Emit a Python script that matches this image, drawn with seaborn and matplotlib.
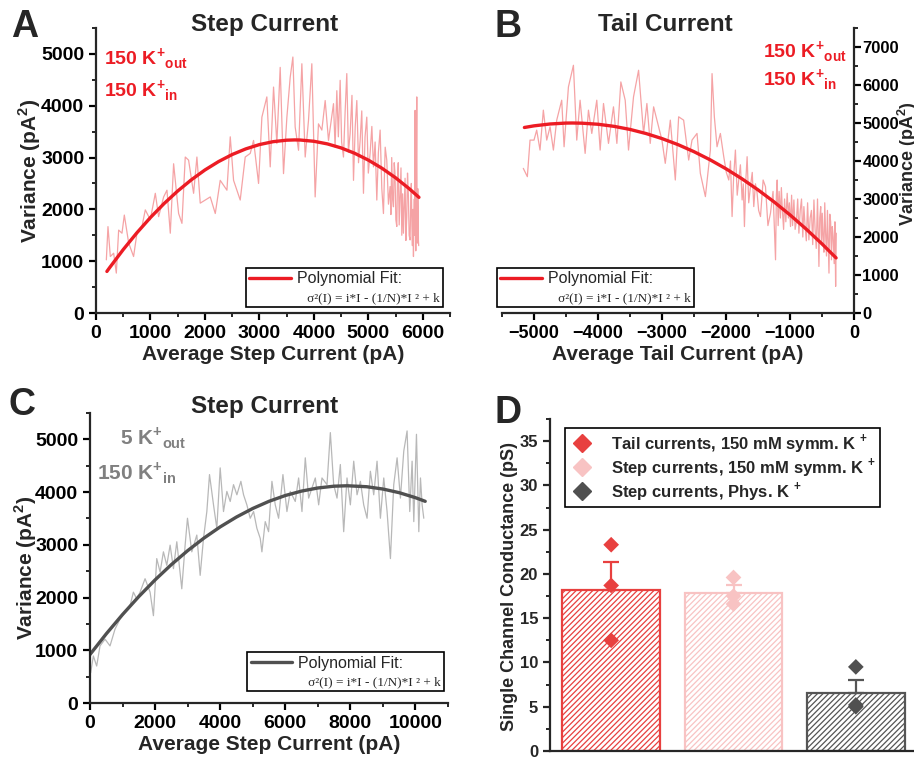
import numpy as np
import pandas as pd
import matplotlib
matplotlib.use("Agg")
import matplotlib.pyplot as plt
import seaborn as sns
from matplotlib.lines import Line2D
from matplotlib.ticker import MultipleLocator
from matplotlib.font_manager import FontProperties

# ---------------- data ----------------
# Panel A: step current, 150 K+ symmetric -- (mean current pA, variance pA^2)
a_trace = [(190, 1026), (220, 1667), (263, 1090), (324, 1154), (373, 770), (416, 1600), (477, 1540),
           (520, 1890), (600, 1350), (690, 1090), (752, 1540), (844, 1670), (905, 1990), (997, 1800),
           (1089, 2310), (1150, 1860), (1242, 2240), (1303, 2370), (1364, 1540), (1425, 2880),
           (1517, 1920), (1578, 1730), (1639, 3010), (1700, 2950), (1792, 2310), (1853, 3010),
           (1914, 2120), (2006, 2180), (2098, 2240), (2190, 1920), (2281, 2560), (2404, 2370),
           (2465, 3400), (2526, 2560), (2648, 2180), (2740, 3010), (2832, 3080), (2893, 3330),
           (2985, 2500), (3046, 3780), (3137, 4170), (3199, 2820), (3260, 4360), (3321, 3270),
           (3382, 4740), (3443, 2690), (3505, 3780), (3566, 4550), (3615, 4940), (3657, 3590),
           (3719, 3140), (3780, 4810), (3841, 3010), (3902, 3720), (3963, 4810), (4024, 2240),
           (4085, 3650), (4147, 3530), (4208, 4100), (4269, 3330), (4361, 4040), (4390, 3200),
           (4422, 4290), (4450, 3400), (4483, 4490), (4510, 3300), (4544, 3010), (4575, 3900),
           (4605, 4620), (4635, 3100), (4666, 3460), (4700, 4200), (4728, 2560), (4760, 3600),
           (4789, 4100), (4820, 2900), (4850, 3330), (4880, 3900), (4911, 2310), (4940, 3400),
           (4972, 3780), (5000, 2700), (5033, 3080), (5065, 3600), (5095, 2820), (5125, 3300),
           (5156, 2180), (5185, 3100), (5217, 3530), (5248, 2400), (5278, 1920), (5310, 3200),
           (5339, 2950), (5370, 2100), (5400, 2440), (5415, 1900), (5430, 3000), (5446, 2200),
           (5462, 2050), (5476, 2900), (5490, 2700), (5506, 1800), (5523, 1670), (5536, 2600),
           (5550, 2900), (5567, 1700), (5584, 2240), (5600, 2800), (5615, 1500), (5630, 2300),
           (5645, 1540), (5660, 2100), (5675, 2600), (5690, 1400), (5706, 1860), (5720, 2700),
           (5735, 2300), (5750, 1500), (5767, 1410), (5780, 2200), (5790, 2500), (5800, 1700),
           (5810, 1300), (5820, 2000), (5829, 1090), (5837, 1800), (5845, 2200), (5852, 1500),
           (5859, 3910), (5866, 2000), (5872, 1200), (5880, 2600), (5890, 4170), (5896, 1600),
           (5902, 1350), (5908, 2400), (5915, 2000), (5920, 1400), (5925, 1300)]
a_fit_current = [200, 250, 500, 750, 1000, 1250, 1500, 1750, 2000, 2250, 2500, 2750, 3000, 3250,
                 3500, 3650, 3750, 4000, 4250, 4500, 4750, 5000, 5250, 5500, 5750, 5930]
a_fit_variance = [802, 875, 1224, 1547, 1843, 2112, 2354, 2570, 2760, 2922, 3058, 3167, 3250, 3306,
                  3335, 3340, 3338, 3314, 3263, 3186, 3082, 2951, 2794, 2610, 2400, 2232]

# Panel B: tail current, 150 K+ symmetric
b_trace = [(-5167, 3806), (-5104, 3588), (-5062, 4550), (-5000, 4550), (-4958, 4813), (-4906, 4288),
           (-4854, 5338), (-4801, 4550), (-4749, 4900), (-4697, 4288), (-4645, 5075), (-4567, 5600),
           (-4530, 4375), (-4462, 5950), (-4384, 6519), (-4332, 4550), (-4280, 5600), (-4201, 4200),
           (-4149, 5338), (-4097, 4725), (-4019, 5600), (-3966, 4288), (-3914, 5513), (-3836, 4463),
           (-3758, 5425), (-3705, 4463), (-3643, 6081), (-3575, 5600), (-3523, 4288), (-3445, 5688),
           (-3366, 6388), (-3288, 4725), (-3236, 5513), (-3184, 4463), (-3131, 5425), (-3053, 4900),
           (-3001, 4550), (-2949, 3938), (-2870, 5075), (-2792, 3500), (-2740, 5163), (-2662, 5075),
           (-2583, 4025), (-2531, 4550), (-2453, 4725), (-2401, 3675), (-2322, 3063), (-2244, 4288),
           (-2218, 6300), (-2182, 5163), (-2140, 4375), (-2088, 4725), (-2035, 4113), (-1995, 3700),
           (-1957, 3500), (-1930, 4000), (-1905, 2538), (-1880, 3600), (-1853, 4288), (-1825, 3100),
           (-1801, 3500), (-1775, 3900), (-1748, 2975), (-1730, 3400), (-1712, 2275), (-1690, 3500),
           (-1670, 4113), (-1645, 2900), (-1618, 3325), (-1590, 3700), (-1566, 2800), (-1540, 3400),
           (-1514, 3150), (-1490, 2700), (-1461, 2538), (-1420, 3500), (-1383, 3325), (-1345, 2300),
           (-1305, 2625), (-1265, 3200), (-1226, 1400), (-1213, 3100), (-1200, 3500), (-1185, 2300),
           (-1170, 3200), (-1150, 2500), (-1135, 3300), (-1122, 2800), (-1100, 2200), (-1085, 3000),
           (-1065, 2400), (-1044, 3150), (-1025, 2500), (-1010, 2900), (-992, 2275), (-975, 3100),
           (-960, 2300), (-939, 2975), (-920, 2200), (-900, 2400), (-880, 3000), (-861, 2100),
           (-840, 2700), (-820, 3000), (-800, 2000), (-783, 2800), (-765, 2300), (-745, 1900),
           (-725, 2900), (-705, 1925), (-685, 2500), (-665, 2700), (-645, 1800), (-626, 2975),
           (-608, 2200), (-590, 1700), (-570, 3000), (-548, 1225), (-535, 2500), (-520, 2800),
           (-508, 1800), (-496, 2625), (-483, 2000), (-470, 1600), (-457, 2900), (-444, 2100),
           (-430, 1500), (-415, 2700), (-403, 1900), (-391, 1050), (-378, 2600), (-365, 2400),
           (-352, 1400), (-339, 2275), (-325, 2000), (-310, 1300), (-298, 2400), (-287, 700),
           (-277, 2100)]
b_fit_current = [-5150, -5000, -4750, -4500, -4400, -4250, -4000, -3750, -3500, -3250, -3000,
                 -2750, -2500, -2250, -2000, -1750, -1500, -1250, -1000, -750, -500, -280]
b_fit_variance = [4882, 4925, 4974, 4998, 5000, 4995, 4967, 4912, 4831, 4723, 4590,
                  4431, 4245, 4033, 3795, 3531, 3241, 2925, 2582, 2213, 1819, 1450]

# Panel C: step current, physiological K+
c_trace = [(20, 573), (103, 892), (205, 701), (308, 1083), (462, 1210), (615, 1083), (769, 1401),
           (923, 1593), (1077, 1720), (1231, 1847), (1333, 2102), (1436, 1975), (1538, 2102),
           (1692, 2357), (1846, 2102), (1949, 1656), (2051, 2739), (2154, 2484), (2256, 2867),
           (2359, 2612), (2462, 2994), (2564, 2548), (2667, 3058), (2820, 2166), (2923, 2994),
           (2995, 3504), (3128, 2867), (3282, 3185), (3385, 2421), (3487, 3121), (3590, 3631),
           (3672, 4332), (3795, 3758), (3897, 3312), (4000, 4459), (4102, 3631), (4205, 4013),
           (4308, 3822), (4410, 4141), (4513, 3949), (4636, 4204), (4718, 3949), (4820, 3758),
           (4923, 3504), (5026, 3631), (5128, 3312), (5231, 3121), (5282, 2867), (5384, 3440),
           (5487, 3249), (5590, 4204), (5692, 3758), (5795, 3504), (5928, 4332), (6051, 3631),
           (6154, 4013), (6307, 3822), (6410, 4268), (6513, 3631), (6615, 4650), (6718, 3886),
           (6820, 4077), (6923, 4268), (7026, 3758), (7128, 4268), (7282, 4141), (7385, 5128),
           (7487, 4141), (7590, 3886), (7692, 4523), (7795, 3249), (7897, 4268), (8000, 3758),
           (8103, 4586), (8205, 3949), (8308, 4204), (8410, 3758), (8513, 3504), (8615, 4395),
           (8718, 3949), (8820, 4586), (8923, 3504), (9026, 4268), (9128, 3631), (9231, 2739),
           (9333, 4141), (9436, 4650), (9538, 3886), (9641, 4778), (9743, 5160), (9825, 3631),
           (9897, 4586), (9949, 3440), (10031, 5096), (10103, 3249), (10154, 4268), (10205, 3758),
           (10256, 3504)]
c_fit_current = [0, 500, 1000, 1500, 2000, 2500, 3000, 3500, 4000, 4500, 5000, 5500, 6000, 6500,
                 7000, 7500, 7900, 8500, 9000, 9500, 10000, 10300]
c_fit_variance = [920, 1312, 1678, 2019, 2335, 2625, 2889, 3127, 3340, 3527, 3689, 3825, 3935, 4019,
                  4078, 4112, 4120, 4102, 4058, 3989, 3894, 3825]

# Panel D: single channel conductance
d_groups = ["Tail currents, 150 mM symm. K $^\\mathbf{+}$",
            "Step currents, 150 mM symm. K $^\\mathbf{+}$",
            "Step currents, Phys. K $^\\mathbf{+}$"]
d_means = [18.2, 17.9, 6.6]
d_err = [3.1, 0.8, 1.4]
d_points = [[23.3, 18.7, 12.5], [19.6, 17.5, 16.6], [9.5, 5.2, 5.0]]

# ---------------- style ----------------
sns.set_theme(style="ticks")
plt.rcParams["font.family"] = ["Liberation Sans", "DejaVu Sans"]
plt.rcParams["font.weight"] = "bold"
plt.rcParams["mathtext.fontset"] = "custom"
plt.rcParams["mathtext.rm"] = "Liberation Sans:bold"
plt.rcParams["mathtext.bf"] = "Liberation Sans:bold"
plt.rcParams["axes.linewidth"] = 1.6
plt.rcParams["hatch.linewidth"] = 0.9

RED = "#EC1C24"
PINK = "#F5A3A5"
DGRAY = "#505050"
LGRAY = "#B8B8B8"
TGRAY = "#808080"

W, H = 914, 757
fig = plt.figure(figsize=(W / 100, H / 100), dpi=100)


def rect(l, t, r, b):
    return [l / W, 1 - b / H, (r - l) / W, (b - t) / H]


def px(x, y):
    return (x / W, 1 - y / H)


def style_axis(ax, xmaj, xmin, ymaj, ymin, tsize):
    ax.xaxis.set_major_locator(MultipleLocator(xmaj))
    ax.xaxis.set_minor_locator(MultipleLocator(xmin))
    ax.yaxis.set_major_locator(MultipleLocator(ymaj))
    ax.yaxis.set_minor_locator(MultipleLocator(ymin))
    ax.tick_params(which="major", direction="out", length=5, width=1.6,
                   labelsize=tsize, colors="black")
    ax.tick_params(which="minor", direction="out", length=3, width=1.4)
    for lab in ax.get_xticklabels() + ax.get_yticklabels():
        lab.set_fontweight("bold")


def fit_legend(ax, color, anchor):
    h1 = Line2D([], [], color=color, lw=2.4)
    h2 = Line2D([], [], lw=0, alpha=0)
    leg = ax.legend([h1, h2], ["Polynomial Fit:", "   σ²(I) = i*I - (1/N)*I ² + k"],
                    loc="lower right", bbox_to_anchor=anchor, frameon=True,
                    fancybox=False, edgecolor="black", framealpha=1,
                    borderpad=0.2, handlelength=2.6, handletextpad=0.4,
                    labelspacing=0.25, borderaxespad=0, handleheight=0.6,
                    prop=FontProperties(family="Liberation Sans", weight="normal", size=11.5))
    leg.get_frame().set_linewidth(1.2)
    t = leg.get_texts()[1]
    t.set_fontfamily("Liberation Serif")
    t.set_fontweight("normal")
    t.set_fontsize(9.5)
    return leg


def trace(ax, pts, color, lw):
    xs = [p[0] for p in pts]
    ys = [p[1] for p in pts]
    sns.lineplot(x=xs, y=ys, ax=ax, color=color, lw=lw, sort=False, estimator=None)


# ---------------- Panel A ----------------
axA = fig.add_axes(rect(96, 28, 450, 313))
trace(axA, a_trace, PINK, 0.9)
sns.lineplot(x=a_fit_current, y=a_fit_variance, ax=axA, color=RED, lw=2.4, sort=False, estimator=None)
axA.set_xlim(0, 6500)
axA.set_ylim(0, 5500)
sns.despine(ax=axA)
style_axis(axA, 1000, 500, 1000, 500, 14)
axA.set_xlabel("Average Step Current (pA)", fontsize=15, fontweight="bold", labelpad=2)
axA.set_ylabel("Variance (pA$^\\mathbf{2}$)", fontsize=15, fontweight="bold")
axA.yaxis.set_label_coords(-0.15, 0.498)
fit_legend(axA, RED, (0.98, 0.021))

# ---------------- Panel B ----------------
axB = fig.add_axes(rect(502, 28, 854, 313))
trace(axB, b_trace, PINK, 0.9)
sns.lineplot(x=b_fit_current, y=b_fit_variance, ax=axB, color=RED, lw=2.4, sort=False, estimator=None)
axB.set_xlim(-5500, 0)
axB.set_ylim(0, 7500)
sns.despine(ax=axB, left=True, right=False)
axB.yaxis.tick_right()
axB.yaxis.set_label_position("right")
style_axis(axB, 1000, 500, 1000, 500, 13)
axB.tick_params(axis="y", which="major", labelsize=12, pad=1)
for lab in axB.get_yticklabels():
    lab.set_fontweight("bold")
axB.set_xlabel("Average Tail Current (pA)", fontsize=15, fontweight="bold", labelpad=2)
axB.set_ylabel("Variance (pA$^\\mathbf{2}$)", fontsize=13, fontweight="bold", rotation=90)
axB.yaxis.set_label_coords(1.12, 0.523)
fit_legend(axB, RED, (0.545, 0.021))

# ---------------- Panel C ----------------
axC = fig.add_axes(rect(90, 413, 448, 703))
trace(axC, c_trace, LGRAY, 0.9)
sns.lineplot(x=c_fit_current, y=c_fit_variance, ax=axC, color=DGRAY, lw=2.4, sort=False, estimator=None)
axC.set_xlim(0, 11000)
axC.set_ylim(0, 5500)
sns.despine(ax=axC)
style_axis(axC, 2000, 1000, 1000, 500, 14)
axC.set_xlabel("Average Step Current (pA)", fontsize=15, fontweight="bold", labelpad=2)
axC.set_ylabel("Variance (pA$^\\mathbf{2}$)", fontsize=15, fontweight="bold")
axC.yaxis.set_label_coords(-0.142, 0.465)
fit_legend(axC, DGRAY, (0.99, 0.04))

# ---------------- Panel D ----------------
axD = fig.add_axes(rect(550, 419, 917, 751))
bar_edges = ["#E8403F", "#F8C3C3", "#555555"]
dot_cols = ["#E8403F", "#F8C3C3", "#505050"]
dfD = pd.DataFrame({"group": d_groups, "mean": d_means})
sns.barplot(data=dfD, x="group", y="mean", ax=axD, width=0.8, color="white",
            errorbar=None, order=d_groups)
for patch, ec in zip(axD.patches, bar_edges):
    patch.set_facecolor("white")
    patch.set_edgecolor(ec)
    patch.set_linewidth(1.6)
    patch.set_hatch("//////")
for i, (m, e) in enumerate(zip(d_means, d_err)):
    axD.errorbar([i], [m], yerr=[[0], [e]], color=bar_edges[i], capsize=5.5,
                 elinewidth=1.6, capthick=1.6, fmt="none", zorder=3)
pts = pd.DataFrame({"group": [g for g, p in zip(d_groups, d_points) for _ in p],
                    "value": [v for p in d_points for v in p]})
sns.stripplot(data=pts, x="group", y="value", hue="group", palette=dot_cols,
              order=d_groups, hue_order=d_groups, jitter=False, marker="D", size=8,
              ax=axD, legend=False, zorder=4, linewidth=0)
axD.set_xlim(-0.5, 2.5)
axD.set_ylim(0, 37.5)
sns.despine(ax=axD)
axD.yaxis.set_major_locator(MultipleLocator(5))
axD.yaxis.set_minor_locator(MultipleLocator(2.5))
axD.tick_params(axis="y", which="major", direction="out", length=5, width=1.6, labelsize=12)
axD.tick_params(axis="y", which="minor", direction="out", length=3, width=1.4)
axD.set_xticks([])
axD.set_xlabel("")
for lab in axD.get_yticklabels():
    lab.set_fontweight("bold")
axD.set_ylabel("Single Channel Conductance (pS)", fontsize=13, fontweight="bold")
axD.yaxis.set_label_coords(-0.087, 0.494)
handlesD = [Line2D([], [], marker="D", linestyle="none", color=c, markersize=9) for c in dot_cols]
legD = axD.legend(handlesD, d_groups, loc="upper left", bbox_to_anchor=(0.041, 0.973),
                  frameon=True, fancybox=False, edgecolor="black", framealpha=1,
                  borderpad=0.25, handlelength=1.5, handletextpad=1.0, labelspacing=0.05,
                  borderaxespad=0,
                  prop=FontProperties(family="Liberation Sans", weight="bold", size=12))
legD.get_frame().set_linewidth(1.2)

# ---------------- annotations ----------------
fs_title = 17.5
fig.text(*px(265, 31), "Step Current", ha="center", va="baseline", fontsize=fs_title, fontweight="bold")
fig.text(*px(665, 31), "Tail Current", ha="center", va="baseline", fontsize=fs_title, fontweight="bold")
fig.text(*px(265, 413), "Step Current", ha="center", va="baseline", fontsize=fs_title, fontweight="bold")

for (x, y, s) in [(11, 37, "A"), (494, 37, "B"), (9, 415, "C"), (494, 423, "D")]:
    fig.text(*px(x, y), s, ha="left", va="baseline", fontsize=27, fontweight="bold")

k_out = "150 K$^\\mathbf{+}{}_\\mathbf{out}$"
k_in = "150 K$^\\mathbf{+}{}_\\mathbf{in}$"
fig.text(*px(104, 65), k_out, color=RED, fontsize=14, fontweight="bold", va="baseline")
fig.text(*px(104, 97), k_in, color=RED, fontsize=14, fontweight="bold", va="baseline")
fig.text(*px(763, 58), k_out, color=RED, fontsize=14, fontweight="bold", va="baseline")
fig.text(*px(763, 86), k_in, color=RED, fontsize=14, fontweight="bold", va="baseline")
fig.text(*px(120, 445), "5 K$^\\mathbf{+}{}_\\mathbf{out}$", color=TGRAY, fontsize=15,
         fontweight="bold", va="baseline")
fig.text(*px(97, 480), k_in, color=TGRAY, fontsize=15, fontweight="bold", va="baseline")

fig.savefig("out.png", dpi=100)
